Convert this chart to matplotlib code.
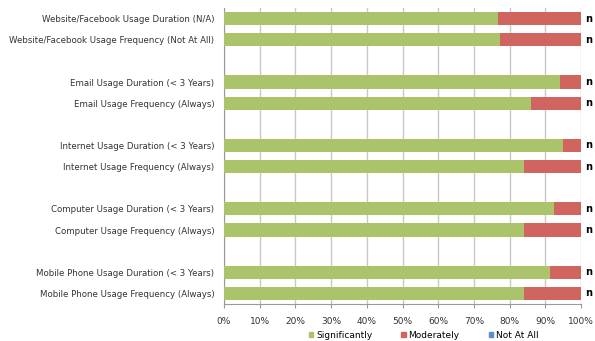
import numpy as np
import matplotlib.pyplot as plt
from matplotlib.patches import Patch

# --- data ---
categories = [
    "Website/Facebook Usage Duration (N/A)",
    "Website/Facebook Usage Frequency (Not At All)",
    "",
    "Email Usage Duration (< 3 Years)",
    "Email Usage Frequency (Always)",
    "",
    "Internet Usage Duration (< 3 Years)",
    "Internet Usage Frequency (Always)",
    "",
    "Computer Usage Duration (< 3 Years)",
    "Computer Usage Frequency (Always)",
    "",
    "Mobile Phone Usage Duration (< 3 Years)",
    "Mobile Phone Usage Frequency (Always)",
]
significantly = [76.7, 77.3, 0, 94.2, 86.0, 0, 95.0, 84.1, 0, 92.4, 84.1, 0, 91.4, 84.1]
moderately = [23.3, 22.7, 0, 5.8, 14.0, 0, 5.0, 15.9, 0, 7.6, 15.9, 0, 8.6, 15.9]
not_at_all = [0, 0, 0, 0, 0, 0, 0, 0, 0, 0, 0, 0, 0, 0]
ticks = np.arange(0, 101, 10)
tick_labels = [f"{t}%" for t in ticks]

green = "#abc46b"
red = "#d0645f"
blue = "#5b8ed0"

fig = plt.figure(figsize=(5.95, 3.41), dpi=100)
ax = fig.add_axes([224 / 595, 1 - 304 / 341, 357 / 595, 296 / 341])

y = np.arange(len(categories))
sig = np.array(significantly)
mod = np.array(moderately)
nat = np.array(not_at_all)

ax.barh(y, sig, height=0.62, color=green, zorder=3)
ax.barh(y, mod, left=sig, height=0.62, color=red, zorder=3)
ax.barh(y, nat, left=sig + mod, height=0.62, color=blue, zorder=3)

# data labels of the empty series show up as a bold "n"
for yi, c in zip(y, categories):
    if c:
        ax.text(101.2, yi, "n", fontsize=7, fontweight="bold",
                va="center", ha="left", color="black")

ax.set_ylim(len(categories) - 0.5, -0.5)
ax.set_xlim(0, 100)
ax.set_yticks(y)
ax.set_yticklabels(categories, fontsize=6.2, color="#333333")
ax.set_xticks(ticks)
ax.set_xticklabels(tick_labels, fontsize=6.5, color="#333333")
ax.tick_params(axis="y", length=0, pad=7)
ax.tick_params(axis="x", length=3, color="#999999", pad=6)

ax.grid(axis="x", color="#c8c8c8", linewidth=1, zorder=0)
for side in ["top", "right"]:
    ax.spines[side].set_visible(False)
ax.spines["left"].set_color("#999999")
ax.spines["bottom"].set_color("#999999")

handles = [Patch(color=green, label="Significantly"),
           Patch(color=red, label="Moderately"),
           Patch(color=blue, label="Not At All")]
fig.legend(handles=handles, loc="center", bbox_to_anchor=(0.712, 1 - 335 / 341),
           ncol=3, frameon=False, fontsize=6.5, handlelength=0.5, handleheight=0.5,
           handletextpad=0.3, columnspacing=3.2)

fig.savefig("out.png", dpi=100)
